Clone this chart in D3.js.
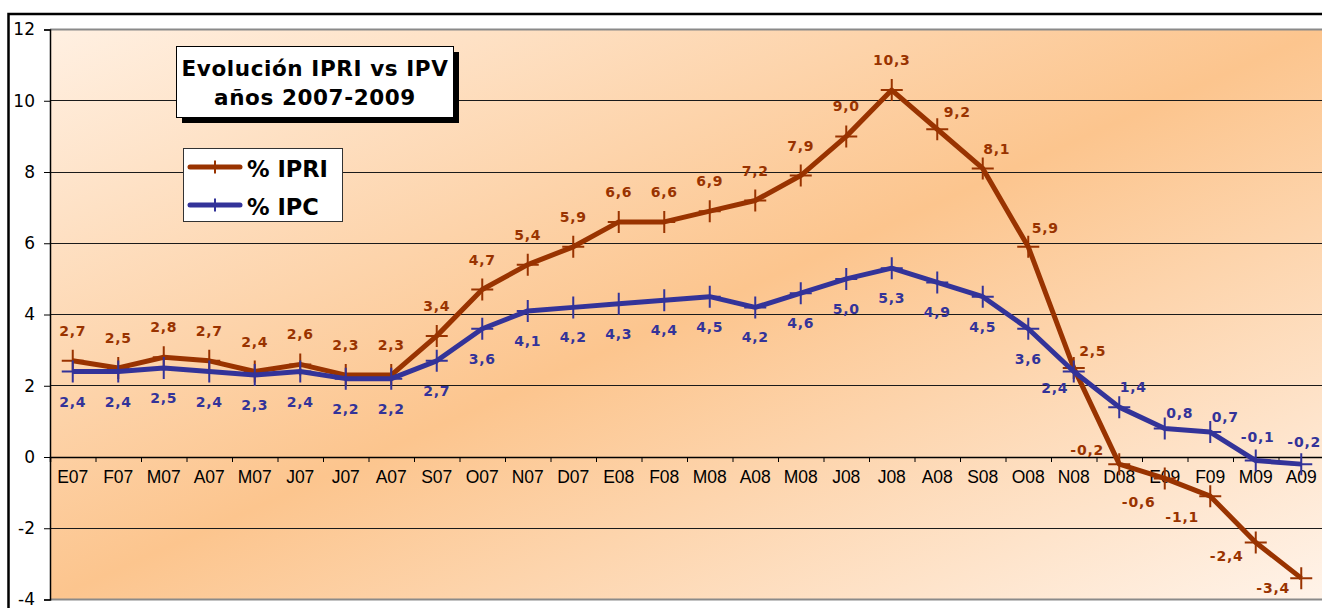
<!DOCTYPE html>
<html><head><meta charset="utf-8">
<script src="https://cdn.jsdelivr.net/npm/d3@7"></script>
<style>body{margin:0;background:#fff;overflow:hidden} svg{display:block}</style>
</head><body><svg id="c" width="1322" height="608"></svg>
<script>
// ---------- data ----------
const categories = ["E07","F07","M07","A07","M07","J07","J07","A07","S07","O07","N07","D07",
                    "E08","F08","M08","A08","M08","J08","J08","A08","S08","O08","N08","D08",
                    "E09","F09","M09","A09"];
const ipri = [2.7,2.5,2.8,2.7,2.4,2.6,2.3,2.3,3.4,4.7,5.4,5.9,6.6,6.6,6.9,7.2,7.9,9.0,10.3,9.2,8.1,5.9,2.5,-0.2,-0.6,-1.1,-2.4,-3.4];
const ipc  = [2.4,2.4,2.5,2.4,2.3,2.4,2.2,2.2,2.7,3.6,4.1,4.2,4.3,4.4,4.5,4.2,4.6,5.0,5.3,4.9,4.5,3.6,2.4,1.4,0.8,0.7,-0.1,-0.2];
const yTicks = [-4,-2,0,2,4,6,8,10,12];
const titleLines = ["Evolución IPRI vs IPV","años 2007-2009"];
const seriesNames = ["% IPRI","% IPC"];

// ---------- layout / style ----------
const svg = d3.select("#c");
const plot = {left:50, top:29.5, right:1324, bottom:599.5};
const colIPRI = "#993300", colIPC = "#333399";
const x = d3.scaleBand().domain(d3.range(categories.length)).range([plot.left, plot.right]);
const xb = d3.scaleLinear().domain([0, categories.length]).range([plot.left, plot.right]);
const y = d3.scaleLinear().domain([-4,12]).range([plot.bottom, plot.top]);
const cx = i => x(i) + x.bandwidth()/2;
const fmt = v => d3.format(".1f")(v).replace(".", ",").replace("−","-");

// label nudges (dx, dy) relative to default placement
const ipriNudge = {19:[20,13], 20:[14,11], 21:[17,11], 22:[19,13], 23:[-32,16], 24:[-26,54], 25:[-28,51], 26:[-29,43], 27:[-28,40]};
const ipcNudge  = {22:[-19,-14], 23:[14,-50], 24:[15,-46], 25:[15,-45], 26:[2,-54], 27:[3,-52]};

// outer frame
svg.append("rect").attr("x",8.5).attr("y",14).attr("width",1340).attr("height",640)
  .attr("fill","#fff").attr("stroke","#000").attr("stroke-width",2.5);

// background gradient
const defs = svg.append("defs");
const grad = defs.append("linearGradient").attr("id","bg").attr("x1",0).attr("y1",0).attr("x2",1).attr("y2",1);
grad.append("stop").attr("offset","0%").attr("stop-color","#fff0e2");
grad.append("stop").attr("offset","50%").attr("stop-color","#fcc58e");
grad.append("stop").attr("offset","100%").attr("stop-color","#fff3e9");
svg.append("rect").attr("x",plot.left).attr("y",plot.top)
  .attr("width",plot.right-plot.left).attr("height",plot.bottom-plot.top).attr("fill","url(#bg)");

// gridlines
svg.append("g").selectAll("line").data(yTicks.filter(t => t!==-4 && t!==12 && t!==0)).join("line")
  .attr("x1",plot.left).attr("x2",plot.right).attr("y1",d=>y(d)).attr("y2",d=>y(d))
  .attr("stroke","#1a1a1a").attr("stroke-width",1).attr("shape-rendering","crispEdges");
// plot border top/bottom (gray)
[12,-4].forEach(t => svg.append("line").attr("x1",plot.left).attr("x2",plot.right)
  .attr("y1",y(t)).attr("y2",y(t)).attr("stroke","#8a8a8a").attr("stroke-width",2));

// y axis
const yAx = svg.append("g").attr("transform",`translate(${plot.left},0)`)
  .call(d3.axisLeft(y).tickValues(yTicks).tickSize(6).tickPadding(9).tickFormat(d3.format("d")));
yAx.select(".domain").attr("stroke","#000").attr("stroke-width",1.5);
yAx.selectAll(".tick line").attr("stroke","#000");
yAx.selectAll("text").attr("font-family","'DejaVu Sans', Verdana, sans-serif").attr("font-size",17).attr("fill","#000")
  .text(d => String(d).replace("−","-"));

// x axis (zero line with ticks at category boundaries)
const xTickAx = svg.append("g").attr("transform",`translate(0,${y(0)})`)
  .call(d3.axisBottom(xb).tickValues(d3.range(0, categories.length+1)).tickSize(5).tickFormat(""));
xTickAx.select(".domain").attr("stroke","#000").attr("stroke-width",1.5);
xTickAx.selectAll(".tick line").attr("stroke","#000");
const xLab = svg.append("g").attr("transform",`translate(0,${y(0)})`)
  .call(d3.axisBottom(x).tickSize(0).tickPadding(14).tickFormat(i => categories[i]));
xLab.select(".domain").remove();
xLab.selectAll("text").attr("font-family","'Liberation Sans', Arial, sans-serif").attr("font-size",17.5).attr("fill","#000");

// lines
const line = d3.line().x((d,i)=>cx(i)).y(d=>y(d));
function drawSeries(vals, col){
  svg.append("path").datum(vals).attr("d",line).attr("fill","none")
    .attr("stroke",col).attr("stroke-width",5).attr("stroke-linejoin","round");
  svg.append("g").selectAll("path").data(vals).join("path")
    .attr("d",(d,i)=>`M${cx(i)-11},${y(d)}h22M${cx(i)},${y(d)-11}v22`)
    .attr("stroke",col).attr("stroke-width",2).attr("fill","none");
}
drawSeries(ipri, colIPRI);
drawSeries(ipc, colIPC);

// data labels
function drawLabels(vals, col, dyDefault, nudge){
  svg.append("g").selectAll("text").data(vals).join("text")
    .attr("x",(d,i)=>cx(i) + (nudge[i]?nudge[i][0]:0))
    .attr("y",(d,i)=>y(d) + dyDefault + (nudge[i]?nudge[i][1]:0))
    .attr("dy","0.36em").attr("text-anchor","middle")
    .attr("font-family","'DejaVu Sans', Verdana, sans-serif").attr("font-weight","bold")
    .attr("font-size",14).attr("letter-spacing",0.8).attr("fill",col).text(d=>fmt(d));
}
drawLabels(ipri, colIPRI, -30, ipriNudge);
drawLabels(ipc, colIPC, 30, ipcNudge);

// title box
svg.append("rect").attr("x",182).attr("y",52).attr("width",277).attr("height",71).attr("fill","#000");
svg.append("rect").attr("x",176.5).attr("y",46.5).attr("width",277).attr("height",71)
  .attr("fill","#fff").attr("stroke","#000").attr("stroke-width",1);
svg.append("g").selectAll("text").data(titleLines).join("text")
  .attr("x",315).attr("y",(d,i)=>75.5+i*29).attr("text-anchor","middle")
  .attr("font-family","'DejaVu Sans', Verdana, sans-serif").attr("font-weight","bold")
  .attr("font-size",21.5).attr("letter-spacing",0.6).attr("fill","#000").text(d=>d);

// legend
svg.append("rect").attr("x",183.5).attr("y",148.5).attr("width",159).attr("height",73)
  .attr("fill","#fff").attr("stroke","#333").attr("stroke-width",1);
const legCols = [colIPRI, colIPC];
seriesNames.forEach((name,i)=>{
  const ly = 167 + i*38;
  svg.append("line").attr("x1",190).attr("x2",240).attr("y1",ly).attr("y2",ly)
    .attr("stroke",legCols[i]).attr("stroke-width",5).attr("stroke-linecap","round");
  svg.append("path").attr("d",`M209,${ly}h12M215,${ly-6.5}v13`).attr("stroke",legCols[i]).attr("stroke-width",2);
  svg.append("text").attr("x",247).attr("y",ly+10).attr("font-family","'DejaVu Sans', Verdana, sans-serif")
    .attr("font-weight","bold").attr("font-size",22.5).attr("fill","#000").text(name);
});
</script></body></html>
